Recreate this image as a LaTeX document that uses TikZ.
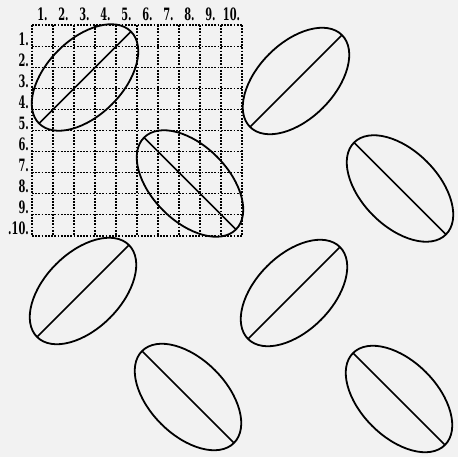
\documentclass[tikz,border=0pt]{standalone}
\usepackage{fontspec}
\usepackage{graphicx}
\newfontfamily\lblfont{DejaVu Serif}
\usetikzlibrary{shapes.geometric}
\newcommand{\numlbl}[1]{\scalebox{0.58}[1]{#1}}
\tikzset{
  grain/.style={ellipse, draw, line width=1.8pt, minimum width=130pt, minimum height=76pt, inner sep=0pt, outer sep=0pt},
  axisline/.style={line width=1.5pt},
  gridline/.style={line width=1.1pt, dash pattern=on 1.8pt off 1.4pt},
  lbl/.style={font=\lblfont\fontsize{17}{17}\selectfont\bfseries, inner sep=0pt}
}
\begin{document}
\begin{tikzpicture}[x=1pt,y=-1pt]
\useasboundingbox[fill=black!5] (0,0) rectangle (458,457);
\foreach \i in {0,...,10} {
  \draw[gridline] ({32+21*\i},25) -- ({32+21*\i},236);
  \draw[gridline] (32,{25+21.1*\i}) -- (242,{25+21.1*\i});
}
\foreach \i in {1,...,10} {
  \node[lbl, anchor=base] (c\i) at ({32+21*\i-10.5},21) {\numlbl{\i.}};
}
\foreach \i in {1,...,9} {
  \node[lbl, anchor=base east] (r\i) at (29,{25+21.1*\i-1}) {\numlbl{\i.}};
}
\node[lbl, anchor=base east] (r10) at (29,235) {\numlbl{.10.}};
\foreach \n/\x/\y/\r in {e1/85/77.5/45, e2/296/81/45, e3/190/183.5/-45, e4/400/188.5/-45, e5/83/291/45, e6/294/293/45, e7/188/397/-45, e8/399/399/-45} {
  \node[grain, rotate=\r] (\n) at (\x,\y) {};
  \draw[axisline] (\n.west) -- (\n.east);
}
\end{tikzpicture}
\end{document}
